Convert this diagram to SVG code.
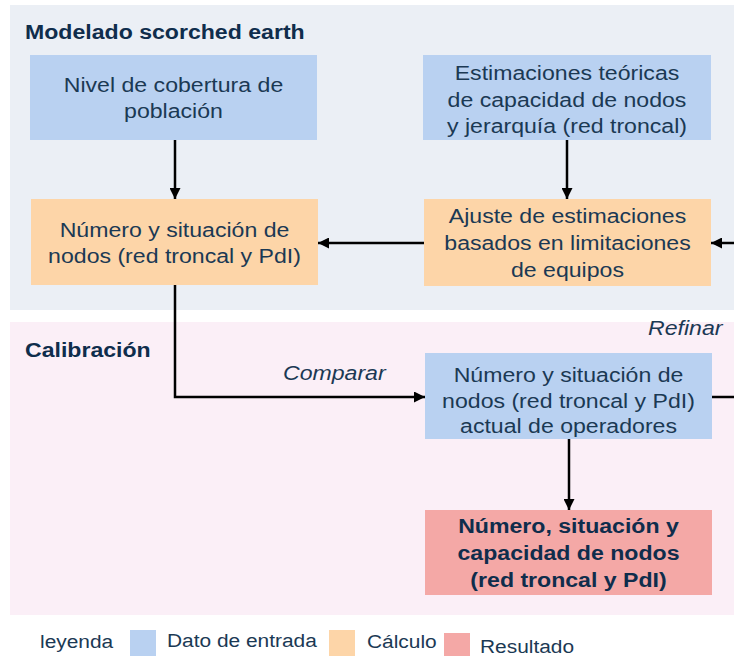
<svg xmlns="http://www.w3.org/2000/svg" width="734" height="656" viewBox="0 0 734 656">
<defs>
<style>
.t{font-family:"Liberation Sans",Arial,sans-serif;font-size:21px;fill:#1b3954;text-anchor:middle}
.b{font-family:"Liberation Sans",Arial,sans-serif;font-size:21px;font-weight:bold;fill:#0f2d4c;text-anchor:middle}
.h{font-family:"Liberation Sans",Arial,sans-serif;font-size:21px;font-weight:bold;fill:#0f2d4c}
.i{font-family:"Liberation Sans",Arial,sans-serif;font-size:21px;font-style:italic;fill:#1b3954}
.l{font-family:"Liberation Sans",Arial,sans-serif;font-size:19px;fill:#1b3954}
.in{fill:#b9d1f1}
.calc{fill:#fdd5a8}
.res{fill:#f4a8a6}
.c{fill:none;stroke:#000;stroke-width:2.5}
</style>
<marker id="ah" viewBox="0 0 10 10" refX="10" refY="5" markerWidth="4.4" markerHeight="4.4" markerUnits="strokeWidth" orient="auto">
<path d="M0,0 L10,5 L0,10 z" fill="#000"/>
</marker>
</defs>
<rect width="734" height="656" fill="#fff"/>
<g id="panel-modelado">
<rect x="10" y="5" width="724" height="305" fill="#ebeff5"/>
<text class="h" x="0" y="39" transform="translate(25 0) scale(1.1 1)">Modelado scorched earth</text>
</g>
<g id="panel-calibracion">
<rect x="10" y="322" width="724" height="293" fill="#fbeff7"/>
<text class="h" x="0" y="357" transform="translate(25 0) scale(1.1 1)">Calibración</text>
</g>
<g id="connectors">
<path class="c" d="M175,140 V199" marker-end="url(#ah)"/>
<path class="c" d="M567,140 V199" marker-end="url(#ah)"/>
<path class="c" d="M424,243 H318" marker-end="url(#ah)"/>
<path class="c" d="M734,243 H711" marker-end="url(#ah)"/>
<path class="c" d="M175,285 V397 H425" marker-end="url(#ah)"/>
<path class="c" d="M569,439 V510" marker-end="url(#ah)"/>
<path class="c" d="M712,397 H734"/>
<text class="i" x="0" y="380" transform="translate(283 0) scale(1.1 1)">Comparar</text>
<text class="i" x="0" y="335" transform="translate(648 0) scale(1.1 1)">Refinar</text>
</g>
<g id="n-cobertura">
<rect class="in" x="30" y="55" width="287" height="85"/>
<text class="t" x="0" y="92" transform="translate(173.5 0) scale(1.1 1)">Nivel de cobertura de</text>
<text class="t" x="0" y="118" transform="translate(173.5 0) scale(1.1 1)">población</text>
</g>
<g id="n-numero">
<rect class="calc" x="31" y="199" width="287" height="86"/>
<text class="t" x="0" y="237" transform="translate(174.5 0) scale(1.1 1)">Número y situación de</text>
<text class="t" x="0" y="263" transform="translate(174.5 0) scale(1.1 1)">nodos (red troncal y PdI)</text>
</g>
<g id="n-estimaciones">
<rect class="in" x="423" y="55" width="288" height="85"/>
<text class="t" x="0" y="80" transform="translate(567 0) scale(1.1 1)">Estimaciones teóricas</text>
<text class="t" x="0" y="107" transform="translate(567 0) scale(1.1 1)">de capacidad de nodos</text>
<text class="t" x="0" y="133" transform="translate(567 0) scale(1.1 1)">y jerarquía (red troncal)</text>
</g>
<g id="n-ajuste">
<rect class="calc" x="424" y="199" width="287" height="87"/>
<text class="t" x="0" y="223" transform="translate(567.5 0) scale(1.1 1)">Ajuste de estimaciones</text>
<text class="t" x="0" y="250" transform="translate(567.5 0) scale(1.1 1)">basados en limitaciones</text>
<text class="t" x="0" y="277" transform="translate(567.5 0) scale(1.1 1)">de equipos</text>
</g>
<g id="n-actual">
<rect class="in" x="425" y="353" width="287" height="86"/>
<text class="t" x="0" y="382" transform="translate(568.5 0) scale(1.1 1)">Número y situación de</text>
<text class="t" x="0" y="408" transform="translate(568.5 0) scale(1.1 1)">nodos (red troncal y PdI)</text>
<text class="t" x="0" y="433" transform="translate(568.5 0) scale(1.1 1)">actual de operadores</text>
</g>
<g id="n-resultado">
<rect class="res" x="425" y="510" width="287" height="85"/>
<text class="b" x="0" y="533" transform="translate(568.5 0) scale(1.1 1)">Número, situación y</text>
<text class="b" x="0" y="560" transform="translate(568.5 0) scale(1.1 1)">capacidad de nodos</text>
<text class="b" x="0" y="587" transform="translate(568.5 0) scale(1.1 1)">(red troncal y PdI)</text>
</g>
<g id="legend">
<text class="l" x="0" y="648" transform="translate(40 0) scale(1.1 1)">leyenda</text>
<rect class="in" x="130" y="630" width="26" height="26"/>
<text class="l" x="0" y="647" transform="translate(167 0) scale(1.1 1)">Dato de entrada</text>
<rect class="calc" x="329" y="630" width="26" height="26"/>
<text class="l" x="0" y="648" transform="translate(367 0) scale(1.1 1)">Cálculo</text>
<rect class="res" x="444" y="633" width="26" height="23"/>
<text class="l" x="0" y="653" transform="translate(480 0) scale(1.1 1)">Resultado</text>
</g>
</svg>
